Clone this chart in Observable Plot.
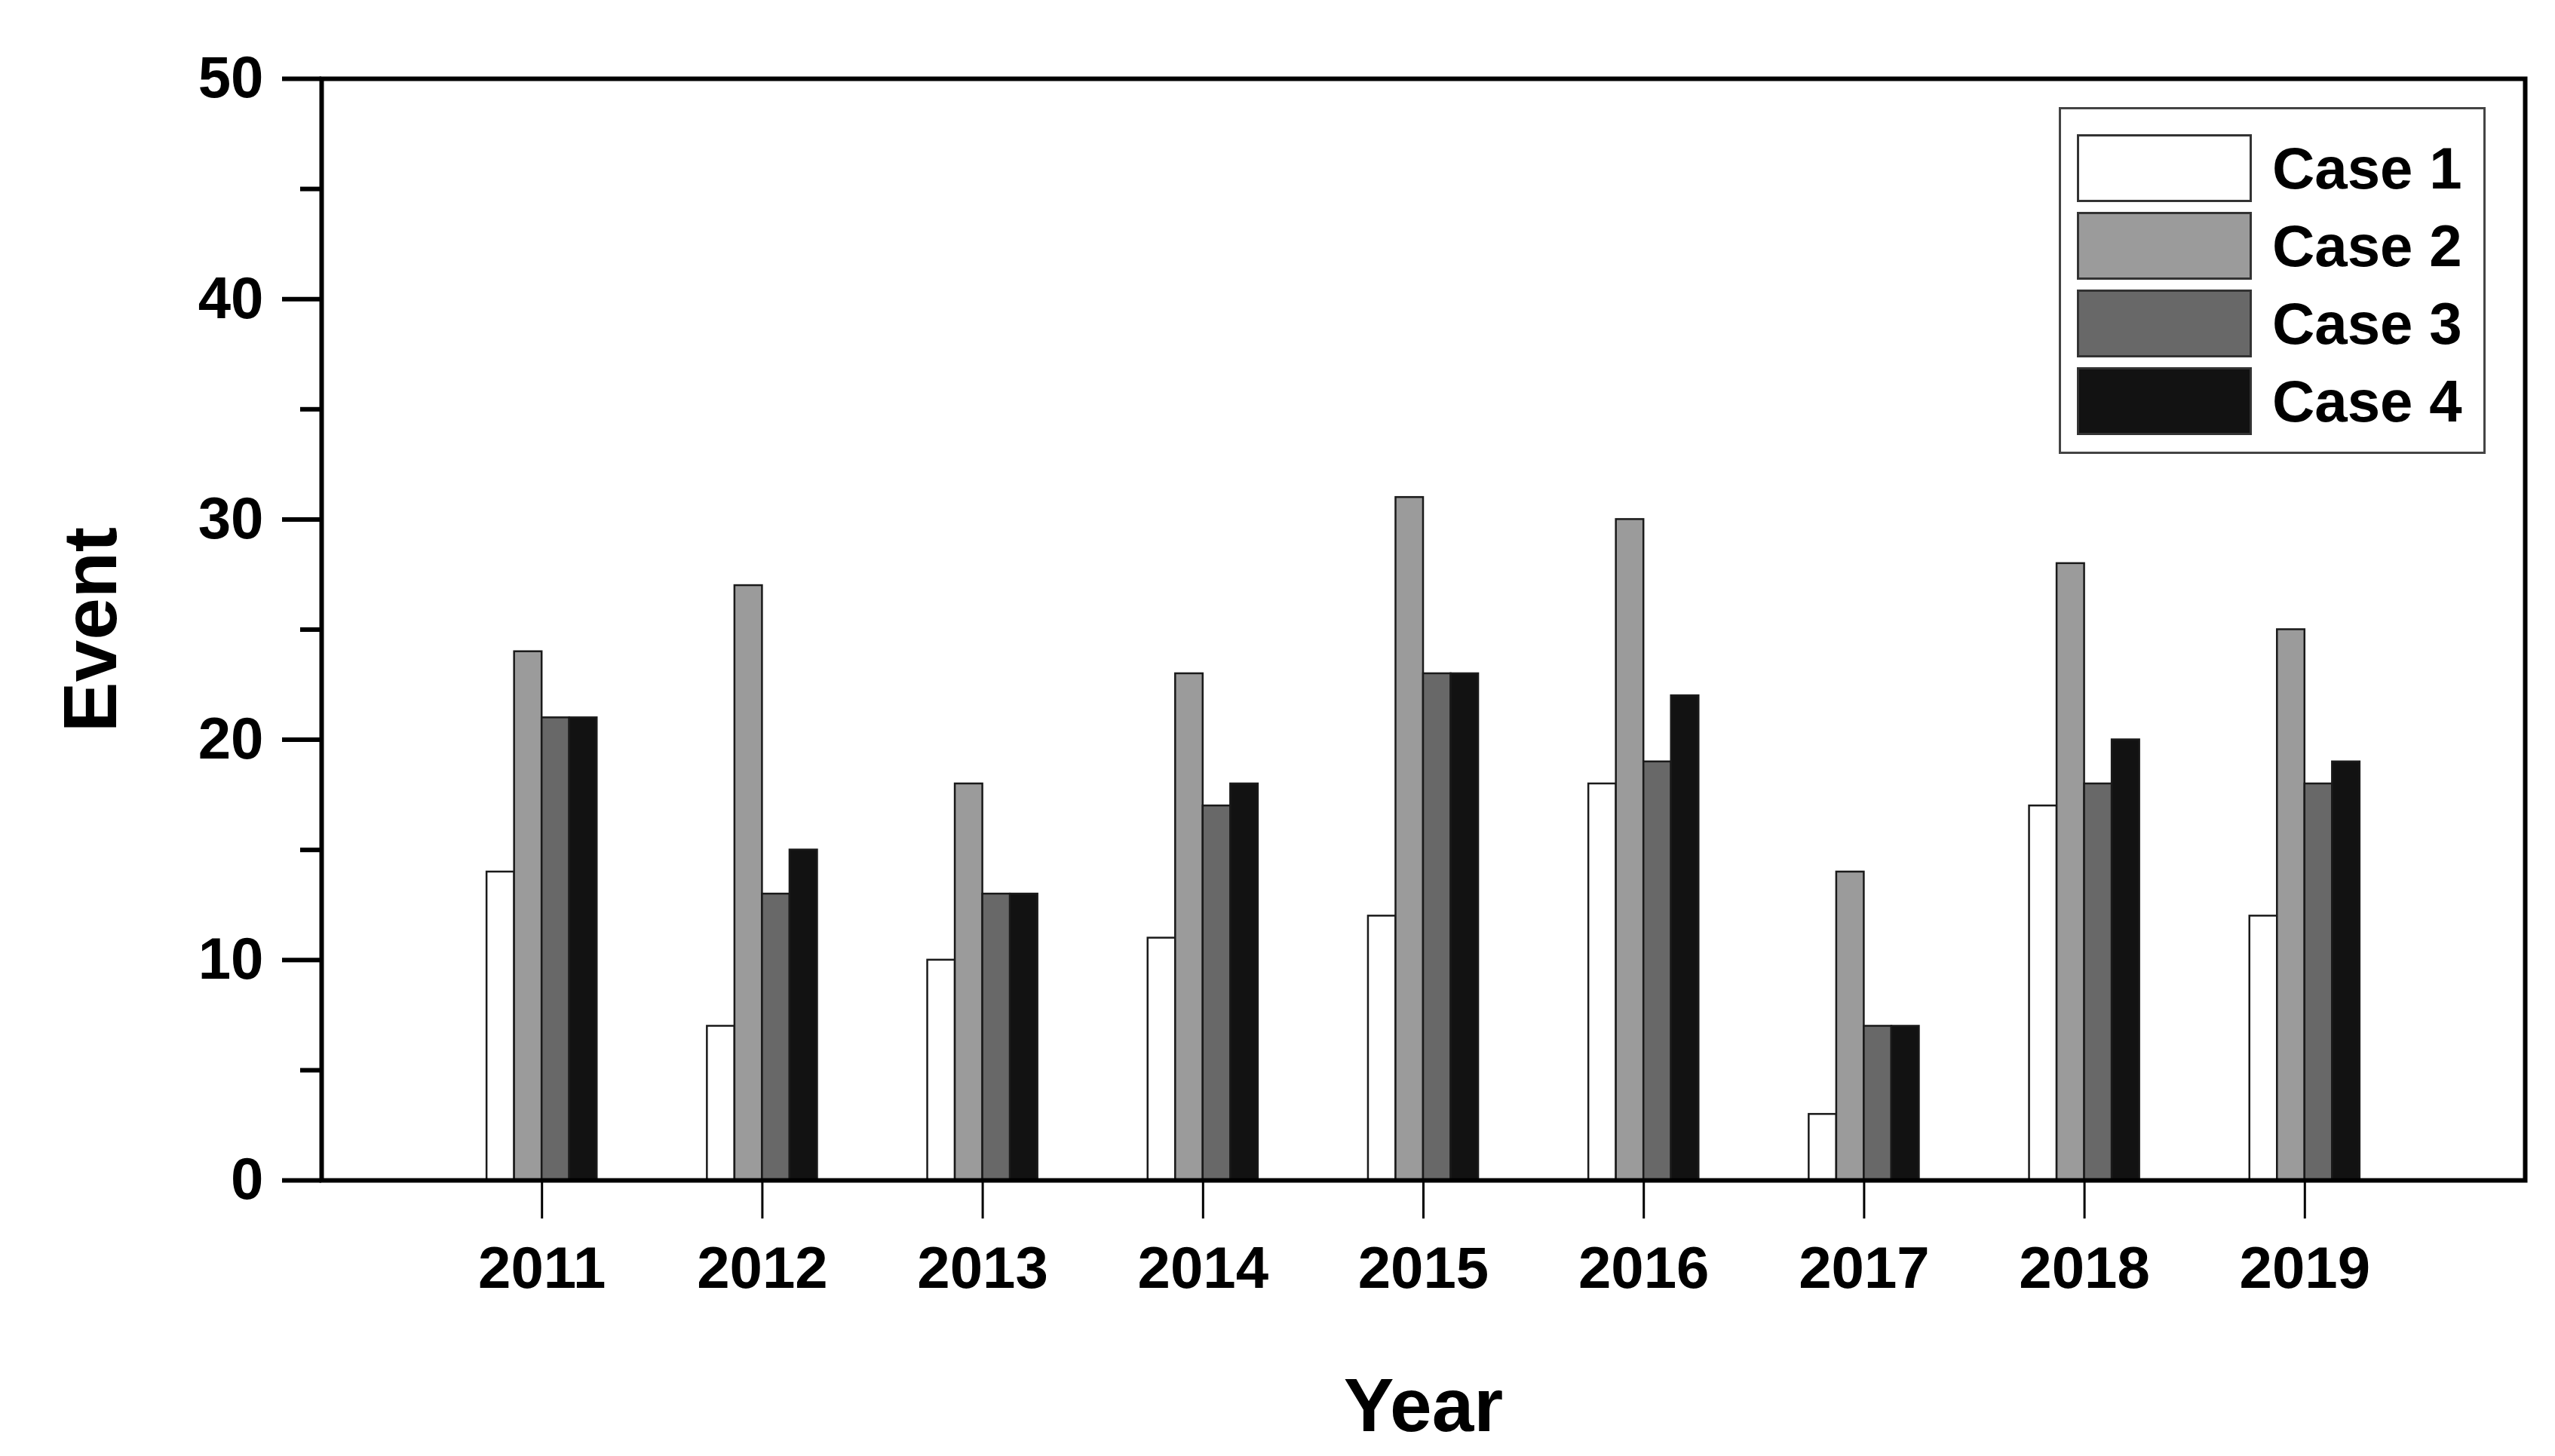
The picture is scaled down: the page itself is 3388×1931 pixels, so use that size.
<!DOCTYPE html>
<html>
<head>
<meta charset="utf-8">
<script src="https://cdn.jsdelivr.net/npm/d3@7"></script>
<script src="https://cdn.jsdelivr.net/npm/@observablehq/plot@0.6"></script>
<style>
  html, body { margin: 0; padding: 0; background: #fff; }
  #wrap { position: relative; width: 3388px; height: 1931px; font-family: "Liberation Sans", Arial, sans-serif; }
  #legend { position: absolute; left: 2730px; top: 142px; width: 566px; height: 460px; box-sizing: border-box;
            border: 3px solid #444; background: #fff; padding-top: 33px; }
  .row { display: flex; align-items: center; height: 90px; margin-bottom: 13px; margin-left: 21px; }
  .sw { width: 232px; height: 90px; box-sizing: border-box; border: 3px solid #333; }
  .lab { margin-left: 27px; font-size: 78px; font-weight: bold; color: #000; line-height: 1; }
</style>
</head>
<body>
<div id="wrap"><div id="legend"></div></div>
<script>
// ---- data ----
const years = [2011, 2012, 2013, 2014, 2015, 2016, 2017, 2018, 2019];
const cases = ["Case 1", "Case 2", "Case 3", "Case 4"];
const case1 = [14, 7, 10, 11, 12, 18, 3, 17, 12];
const case2 = [24, 27, 18, 23, 31, 30, 14, 28, 25];
const case3 = [21, 13, 13, 17, 23, 19, 7, 18, 18];
const case4 = [21, 15, 13, 18, 23, 22, 7, 20, 19];
const fills = ["#ffffff", "#9b9b9b", "#686868", "#121212"];
const yTicks = [0, 10, 20, 30, 40, 50];
const yMinorTicks = [5, 15, 25, 35, 45];

const series = [case1, case2, case3, case4];
const rows = years.flatMap((yr, i) => series.map((vals, k) => ({year: yr, k, name: cases[k], value: vals[i]})));

const barW = 0.125; // fraction of a year step per bar

const chart = Plot.plot({
  width: 3388,
  height: 1931,
  marginLeft: 426,
  marginRight: 40,
  marginTop: 104,
  marginBottom: 366,
  style: {fontFamily: "Liberation Sans, Arial, sans-serif", background: "white", color: "black"},
  x: {type: "linear", domain: [2010, 2020]},
  y: {domain: [0, 50]},
  color: {type: "ordinal", domain: cases, range: fills},
  marks: [
    Plot.rectY(rows, {
      x1: d => d.year - 2 * barW + d.k * barW,
      x2: d => d.year - barW + d.k * barW,
      y1: 0,
      y2: "value",
      fill: "name",
      stroke: "#1a1a1a",
      strokeWidth: 2.5
    }),
    Plot.axisY({ticks: yTicks, tickSize: 52, tickPadding: 25, strokeWidth: 6, fontSize: 78, fontWeight: "bold", label: null}),
    Plot.axisY({ticks: yMinorTicks, tickSize: 28, strokeWidth: 6, text: null, label: null}),
    Plot.axisX({ticks: years, tickSize: 51, tickPadding: 36, strokeWidth: 3, tickFormat: d => String(d), fontSize: 78, fontWeight: "bold", label: null}),
    Plot.axisX({ticks: [], tickSize: 0, text: null, label: "Year", labelAnchor: "center", labelOffset: 332, labelArrow: "none", fontSize: 100, fontWeight: "bold"}),
    Plot.axisY({ticks: [], tickSize: 0, text: null, label: "Event", labelAnchor: "center", labelOffset: 344, labelArrow: "none", fontSize: 100, fontWeight: "bold"}),
    Plot.frame({stroke: "black", strokeWidth: 6})
  ]
});

document.getElementById("wrap").prepend(chart);

const legend = document.getElementById("legend");
cases.forEach((c, k) => {
  const row = document.createElement("div");
  row.className = "row";
  const sw = document.createElement("div");
  sw.className = "sw";
  sw.style.background = fills[k];
  const lab = document.createElement("div");
  lab.className = "lab";
  lab.textContent = c;
  row.append(sw, lab);
  legend.append(row);
});
</script>
</body>
</html>
